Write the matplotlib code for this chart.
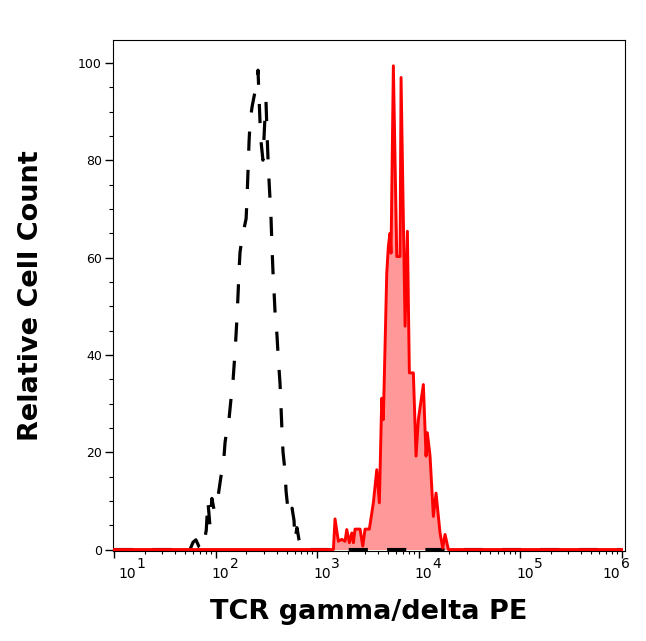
import matplotlib as mpl
import matplotlib.pyplot as plt
from matplotlib.ticker import LogLocator, MultipleLocator, NullFormatter

mpl.rcParams['font.family'] = 'DejaVu Sans'

# isotype control (dashed black)
control_x = [10, 44.7, 56, 60, 64, 69, 75, 81, 84, 88, 92, 97, 106, 113, 119, 124,
             130, 136, 142, 149, 156, 163, 167, 170, 174, 182, 191, 200, 204, 209,
             214, 219, 229, 239, 250, 262, 268, 274, 280, 293, 307, 314, 321, 329,
             336, 344, 352, 360, 368, 377, 385, 403, 413, 432, 442, 452, 462, 484,
             495, 518, 541, 567, 593, 606, 634, 664, 694, 743, 814, 852, 1000000]
control_y = [0, 0, 0, 1.5, 2.0, 0.5, 0, 4, 10, 5, 10.5, 8, 11, 15, 17, 22,
             25, 27, 31, 35, 41, 48, 53, 57, 61, 64, 66, 68, 72, 78,
             84, 88, 91, 93, 95, 98.5, 93, 88, 84, 80, 89, 92, 86, 80,
             76, 72, 68, 62, 57, 53, 49, 44, 40, 34, 29, 24, 20, 16,
             12, 8, 7, 8.5, 6, 2, 4.5, 2, 0.5, 0, 0.5, 0, 0]

# TCR gamma/delta PE stained (red filled)
stained_x = [10, 1449, 1503, 1621, 1751, 1887, 1962, 2081, 2198, 2280, 2367, 2652,
             2820, 2971, 3275, 3586, 3875, 4110, 4339, 4497, 4860, 5040, 5236,
             5354, 5646, 6100, 6572, 6725, 7364, 7762, 8117, 8887, 9445, 9953,
             11150, 11850, 12210, 12980, 13990, 14870, 16280, 17310, 18230,
             19670, 1000000]
stained_y = [0, 0, 6.3, 1.7, 2.1, 1.7, 4.1, 1.4, 3.4, 1.4, 4.2, 4.2,
             0.7, 4.2, 4.2, 9.6, 16.4, 9.6, 31.1, 26.7, 56.8, 62.3, 65,
             60.9, 99.4, 60.2, 60.2, 97, 45.9, 65.4, 36.3, 36.3, 19.2, 26.7,
             33.9, 19.2, 24, 19.2, 6.8, 11.6, 3.4, 0.3, 3.1,
             0, 0]

decades = [1, 2, 3, 4, 5, 6]

fig = plt.figure(figsize=(6.46, 6.41), dpi=100)
ax = fig.add_axes([0.175, 0.1404, 0.7925, 0.7972])

ax.fill_between(stained_x, stained_y, 0, color='#ff9999', lw=0, zorder=1)
ax.plot(control_x, control_y, color='black', lw=2.3, dashes=(6, 6), zorder=2)
ax.plot(stained_x, stained_y, color='#ff0000', lw=2.1, zorder=3)

ax.set_xscale('log')
ax.set_xlim(10 ** 0.99, 10 ** 6.034)
ax.set_ylim(-0.3, 104.7)

ax.xaxis.set_major_locator(LogLocator(base=10, numticks=10))
ax.xaxis.set_minor_locator(LogLocator(base=10, subs=range(2, 10), numticks=20))
ax.xaxis.set_major_formatter(NullFormatter())
ax.xaxis.set_minor_formatter(NullFormatter())
ax.yaxis.set_major_locator(MultipleLocator(20))
ax.yaxis.set_minor_locator(MultipleLocator(5))

ax.tick_params(axis='x', which='major', direction='out', length=5, width=1)
ax.tick_params(axis='x', which='minor', direction='out', length=2.4, width=0.8)
ax.tick_params(axis='y', which='major', direction='out', length=6, width=1,
               labelsize=9, pad=2)
ax.tick_params(axis='y', which='minor', direction='out', length=3, width=0.8)

# decade labels: "10" with a full-size exponent; end labels nudged inside
for d in decades:
    shift = 4 if d == 1 else (-19 if d == 6 else -4)
    ax.annotate('10', xy=(10 ** d, 0), xycoords=('data', 'axes fraction'),
                xytext=(shift, -16), textcoords='offset pixels',
                ha='left', va='top', fontsize=10)
    ax.annotate(str(d), xy=(10 ** d, 0), xycoords=('data', 'axes fraction'),
                xytext=(shift + 18, -6), textcoords='offset pixels',
                ha='left', va='top', fontsize=10)

ax.set_xlabel('TCR gamma/delta PE', fontsize=19.5, fontweight='bold')
ax.xaxis.set_label_coords(0.5, -0.093)
ax.set_ylabel('Relative Cell Count', fontsize=19.5, fontweight='bold')
ax.yaxis.set_label_coords(-0.135, 0.5)

fig.savefig('out.png', dpi=100)
